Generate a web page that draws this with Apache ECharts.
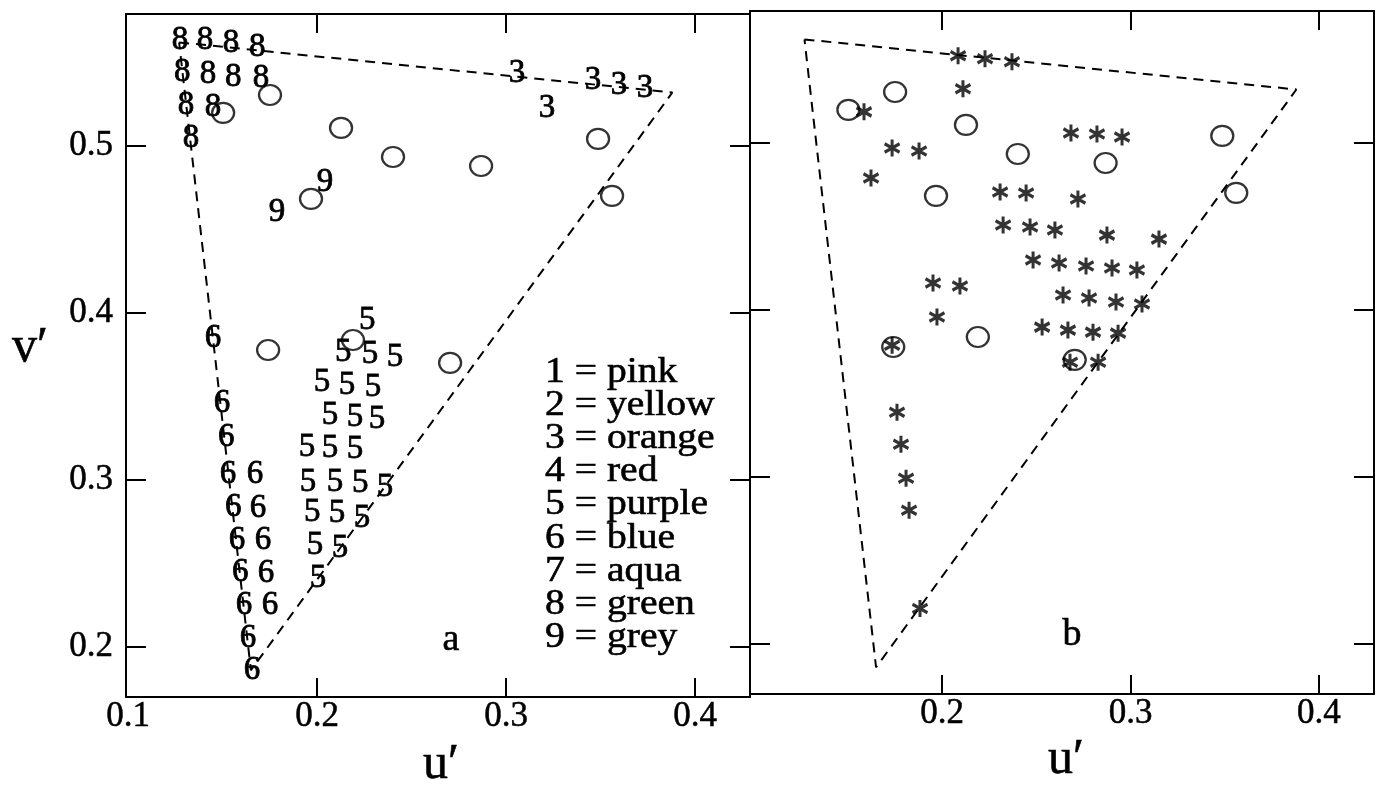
<!DOCTYPE html>
<html>
<head>
<meta charset="utf-8">
<script src="https://cdn.jsdelivr.net/npm/echarts@6/dist/echarts.min.js"></script>
<style>html,body{margin:0;padding:0;background:#fff;}#c{width:1382px;height:785px;}</style>
</head>
<body>
<div id="c"></div>
<script>
// ---- data (u', v') ----
const triangle = [[0.127,0.562],[0.388,0.532],[0.165,0.186],[0.127,0.562]];
const green8 = [[0.1275,0.5635],[0.1407,0.5635],[0.1545,0.5617],[0.1683,0.5593],
  [0.1286,0.5443],[0.1423,0.5431],[0.1556,0.5413],[0.1704,0.5407],
  [0.1307,0.5246],[0.1450,0.5234],[0.1333,0.5048]];
const orange3 = [[0.3058,0.5437],[0.3217,0.5228],[0.3460,0.5395],[0.3598,0.5365],[0.3735,0.5347]];
const grey9 = [[0.1788,0.4605],[0.2042,0.4784]];
const purple5 = [[0.2265,0.3958],[0.2138,0.3766],[0.2280,0.3754],[0.2413,0.3737],
  [0.2026,0.3587],[0.2159,0.3569],[0.2296,0.3557],
  [0.2069,0.3389],[0.2201,0.3377],[0.2317,0.3365],
  [0.1947,0.3198],[0.2069,0.3192],[0.2201,0.3186],
  [0.1952,0.2988],[0.2095,0.2988],[0.2228,0.2982],[0.2360,0.2958],
  [0.1974,0.2808],[0.2106,0.2802],[0.2238,0.2772],
  [0.1989,0.2611],[0.2122,0.2593],[0.2005,0.2413]];
const blue6 = [[0.1450,0.3850],[0.1497,0.3461],[0.1519,0.3257],
  [0.1529,0.3036],[0.1672,0.3036],[0.1556,0.2838],[0.1688,0.2832],
  [0.1577,0.2641],[0.1714,0.2641],[0.1593,0.2449],[0.1730,0.2443],
  [0.1614,0.2251],[0.1751,0.2246],[0.1635,0.2054],[0.1656,0.1862]];
const circles = [[0.1751,0.5305],[0.1503,0.5198],[0.2127,0.5108],[0.2402,0.4934],
  [0.2868,0.4880],[0.3487,0.5042],[0.3561,0.4701],[0.1968,0.4683],
  [0.1741,0.3778],[0.2190,0.3838],[0.2704,0.3701]];
const stars = [[0.2085,0.5522],[0.2228,0.5504],[0.2371,0.5486],[0.2111,0.5324],
  [0.1586,0.5186],[0.1735,0.4970],[0.1878,0.4952],[0.1623,0.4790],
  [0.2308,0.4706],[0.2446,0.4700],[0.2721,0.4664],
  [0.2324,0.4508],[0.2467,0.4496],[0.2599,0.4478],[0.2875,0.4448],[0.3151,0.4424],
  [0.2684,0.5060],[0.2822,0.5054],[0.2955,0.5036],
  [0.2483,0.4299],[0.2621,0.4281],[0.2764,0.4263],[0.2902,0.4251],[0.3034,0.4239],
  [0.2642,0.4089],[0.2780,0.4071],[0.2923,0.4047],[0.3061,0.4035],
  [0.2531,0.3897],[0.2668,0.3879],[0.2801,0.3867],[0.2934,0.3861],
  [0.2679,0.3687],[0.2828,0.3687],
  [0.1952,0.4161],[0.2095,0.4143],[0.1973,0.3957],[0.1735,0.3789],
  [0.1761,0.3387],[0.1782,0.3195],[0.1809,0.2992],[0.1825,0.2800],[0.1883,0.2212]];
const legendLines = ['1 = pink','2 = yellow','3 = orange','4 = red','5 = purple','6 = blue','7 = aqua','8 = green','9 = grey'];
const xTicksLeft = [0.2,0.3,0.4];
const xLabelsLeft = [0.1,0.2,0.3,0.4];
const xLabelsRight = [0.2,0.3,0.4];
const yTicks = [0.2,0.3,0.4,0.5];

// ---- chart ----
const FONT = '"Liberation Serif","Times New Roman",serif';
const chart = echarts.init(document.getElementById('c'), null, {renderer:'canvas'});
const lineS = {color:'#000', width:2};
function xAxis(grid, pos, labels, ticks, min, max){
  return {type:'value', gridIndex:grid, position:pos, min:min, max:max,
    axisLine:{show:true, onZero:false, lineStyle:lineS},
    axisTick:{show:true, inside:true, length:19, lineStyle:lineS, customValues:ticks},
    axisLabel:{show:!!labels, customValues:labels||ticks, margin:2, color:'#000',
      fontFamily:FONT, fontSize:35, textBorderColor:'#000', textBorderWidth:0.5,
      formatter:v=>v.toFixed(1)},
    splitLine:{show:false}};
}
function yAxis(grid, pos, labels){
  return {type:'value', gridIndex:grid, position:pos, min:0.170, max:0.579,
    axisLine:{show:true, onZero:false, lineStyle:lineS},
    axisTick:{show:true, inside:true, length:20, lineStyle:lineS, customValues:yTicks},
    axisLabel:{show:!!labels, customValues:yTicks, margin:13, color:'#000',
      fontFamily:FONT, fontSize:35, textBorderColor:'#000', textBorderWidth:0.5,
      formatter:v=>v.toFixed(1)},
    splitLine:{show:false}};
}
function digitSeries(data, d){
  return {type:'scatter', xAxisIndex:0, yAxisIndex:0, data:data, symbolSize:1,
    itemStyle:{color:'rgba(0,0,0,0)'}, silent:true, z:4,
    label:{show:true, position:'inside', formatter:d, color:'#000', opacity:1,
      textBorderColor:'#000', textBorderWidth:0.8,
      fontFamily:FONT, fontSize:33}};
}
const circleStyle = {color:'rgba(0,0,0,0)', borderColor:'#000', borderWidth:2.2};
const starPath = 'path://M0,-10L0,10M-8.66,-5L8.66,5M-8.66,5L8.66,-5';
const txt = {fill:'#000', stroke:'#000', lineWidth:0.6};
const option = {
  animation:false,
  backgroundColor:'#fff',
  grid:[
    {left:126, top:14, width:624, height:683, outerBoundsMode:'none', containLabel:false},
    {left:750, top:11, width:624, height:683, outerBoundsMode:'none', containLabel:false}
  ],
  xAxis:[
    xAxis(0,'bottom',xLabelsLeft,xTicksLeft,0.0989,0.4291),
    xAxis(0,'top',null,xTicksLeft,0.0989,0.4291),
    xAxis(1,'bottom',xLabelsRight,xLabelsRight,0.0981,0.4292),
    xAxis(1,'top',null,xLabelsRight,0.0981,0.4292)
  ],
  yAxis:[
    yAxis(0,'left',true), yAxis(0,'right',null),
    yAxis(1,'left',null), yAxis(1,'right',null)
  ],
  series:[
    {type:'line', xAxisIndex:0, yAxisIndex:0, data:triangle, symbol:'none', silent:true,
      lineStyle:{color:'#000', width:2, type:[10,7]}, z:2},
    {type:'line', xAxisIndex:2, yAxisIndex:2, data:triangle, symbol:'none', silent:true,
      lineStyle:{color:'#000', width:2, type:[10,7]}, z:2},
    digitSeries(green8,'8'),
    digitSeries(orange3,'3'),
    digitSeries(grey9,'9'),
    digitSeries(purple5,'5'),
    digitSeries(blue6,'6'),
    {type:'scatter', xAxisIndex:0, yAxisIndex:0, data:circles, symbol:'circle',
      symbolSize:[22,20], itemStyle:circleStyle, silent:true, z:3},
    {type:'scatter', xAxisIndex:2, yAxisIndex:2, data:circles, symbol:'circle',
      symbolSize:[22,20], itemStyle:circleStyle, silent:true, z:3},
    {type:'scatter', xAxisIndex:2, yAxisIndex:2, data:stars, symbol:starPath,
      symbolSize:[15,17], itemStyle:{color:'rgba(0,0,0,0)', borderColor:'#000', borderWidth:3.2},
      silent:true, z:4}
  ],
  graphic:[
    {type:'text', x:545, y:356, silent:true, scaleX:1.1,
      style:Object.assign({text:legendLines.join('\n'), font:'36px '+FONT, lineHeight:33.1, verticalAlign:'top'}, txt)},
    {type:'text', x:451, y:640, silent:true,
      style:Object.assign({text:'a', font:'38px '+FONT, align:'center', verticalAlign:'middle'}, txt)},
    {type:'text', x:1072, y:635, silent:true,
      style:Object.assign({text:'b', font:'38px '+FONT, align:'center', verticalAlign:'middle'}, txt)},
    {type:'text', x:441, y:765, silent:true,
      style:Object.assign({text:'u\u2032', font:'50px '+FONT, align:'center', verticalAlign:'middle'}, txt)},
    {type:'text', x:1066, y:760, silent:true,
      style:Object.assign({text:'u\u2032', font:'50px '+FONT, align:'center', verticalAlign:'middle'}, txt)},
    {type:'text', x:30, y:348, silent:true,
      style:Object.assign({text:'v\u2032', font:'50px '+FONT, align:'center', verticalAlign:'middle'}, txt)}
  ]
};
chart.setOption(option);
</script>
</body>
</html>
